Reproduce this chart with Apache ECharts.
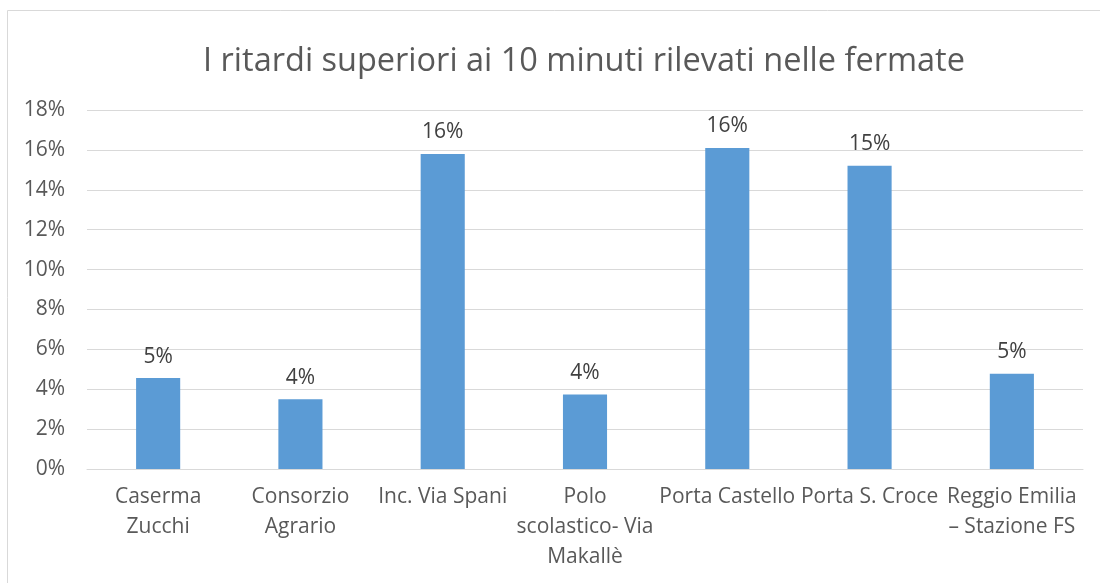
<!DOCTYPE html>
<html>
<head>
<meta charset="utf-8">
<title>I ritardi superiori ai 10 minuti</title>
<script src="https://cdn.jsdelivr.net/npm/echarts@6/dist/echarts.min.js"></script>
<style>
  html, body { margin: 0; padding: 0; background: #fff; }
  #chart { width: 1100px; height: 583px; }
</style>
</head>
<body>
<div id="chart"></div>
<script>
// fermate (a capo come nel grafico originale)
const categories = [
  "Caserma\nZucchi",
  "Consorzio\nAgrario",
  "Inc. Via Spani",
  "Polo\nscolastico- Via\nMakallè",
  "Porta Castello",
  "Porta S. Croce",
  "Reggio Emilia\n– Stazione FS",
];
// quota ritardi > 10 min (%)
const ritardi = [4.56, 3.5, 15.8, 3.74, 16.1, 15.2, 4.77];
const yTicks = [0, 2, 4, 6, 8, 10, 12, 14, 16, 18];

const FONT = "'Open Sans', 'Noto Sans', sans-serif";
const chart = echarts.init(document.getElementById("chart"));

chart.setOption({
  animation: false,
  title: {
    text: "I ritardi superiori ai 10 minuti rilevati nelle fermate",
    left: 579,
    textAlign: "center",
    top: 40,
    textStyle: { fontFamily: FONT, fontSize: 32.5, fontWeight: "normal", color: "#595959" },
  },
  graphic: [
    {
      // cornice del grafico (continua oltre il bordo destro)
      type: "rect",
      shape: { x: 7.5, y: 10.5, width: 1200, height: 600 },
      style: { fill: "none", stroke: "#d9d9d9", lineWidth: 1 },
      silent: true,
    },
  ],
  grid: { left: 87, right: 17, top: 110, bottom: 114 },
  xAxis: {
    type: "category",
    data: categories,
    axisTick: { show: false },
    axisLine: { lineStyle: { color: "#d9d9d9", width: 1 } },
    axisLabel: {
      interval: 0,
      margin: 13,
      fontFamily: FONT,
      fontSize: 21,
      lineHeight: 30,
      color: "#595959",
    },
  },
  yAxis: {
    type: "value",
    min: yTicks[0],
    max: yTicks[yTicks.length - 1],
    interval: 2,
    axisLine: { show: false },
    axisTick: { show: false },
    splitLine: { lineStyle: { color: "#d9d9d9", width: 1 } },
    axisLabel: {
      margin: 22,
      fontFamily: FONT,
      fontSize: 21,
      color: "#595959",
      formatter: (v) => v + "%",
    },
  },
  series: [
    {
      type: "bar",
      data: ritardi,
      barWidth: "31%",
      itemStyle: { color: "#5b9bd5" },
      label: {
        show: true,
        position: "top",
        distance: 11,
        fontFamily: FONT,
        fontSize: 21,
        color: "#404040",
        formatter: (p) => Math.round(p.value) + "%",
      },
    },
  ],
});

window.addEventListener("resize", () => chart.resize());
</script>
</body>
</html>
